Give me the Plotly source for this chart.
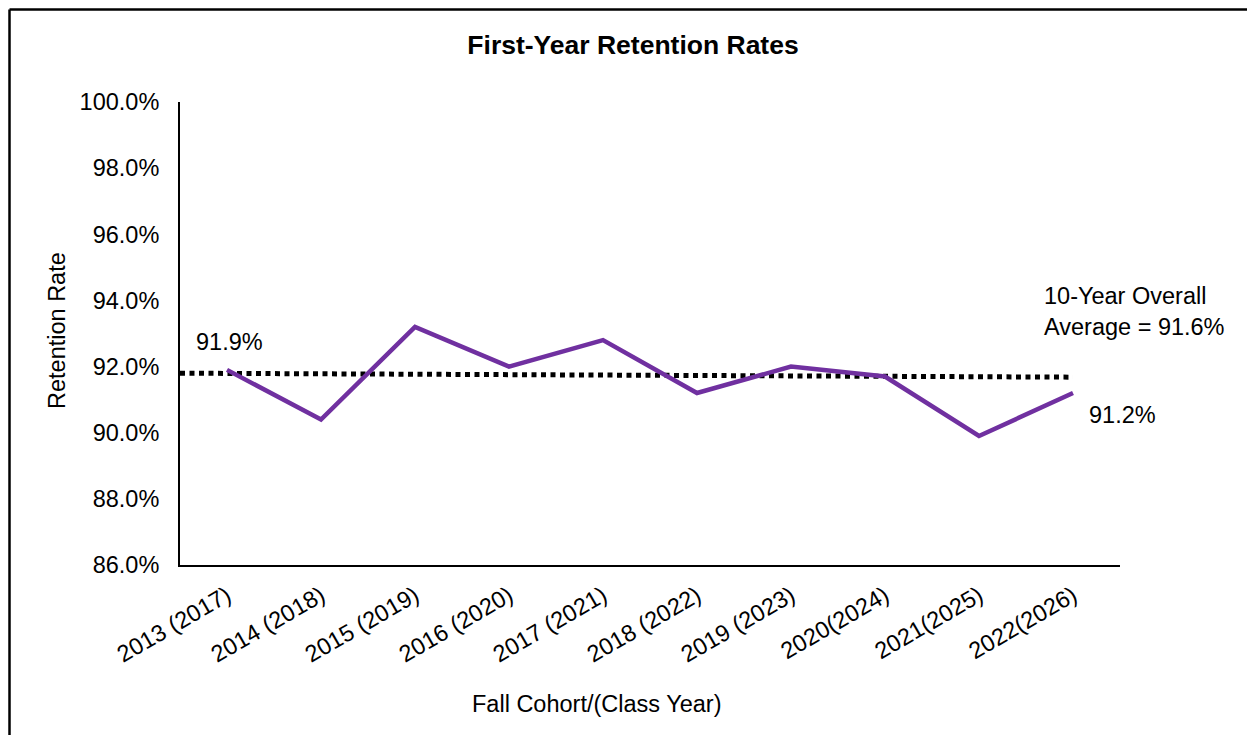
import plotly.graph_objects as go

categories = ["2013 (2017)", "2014 (2018)", "2015 (2019)", "2016 (2020)", "2017 (2021)",
              "2018 (2022)", "2019 (2023)", "2020(2024)", "2021(2025)", "2022(2026)"]
retention = [91.9, 90.4, 93.2, 92.0, 92.8, 91.2, 92.0, 91.7, 89.9, 91.2]
avg_line_values = [91.8, 91.68]
y_ticks = [86, 88, 90, 92, 94, 96, 98, 100]

FONT = "Liberation Sans, Arial, sans-serif"
FS = 23.5
xs = list(range(len(categories)))

fig = go.Figure()
fig.add_trace(go.Scatter(
    x=[-0.5, xs[-1]], y=avg_line_values, mode="lines",
    line=dict(color="black", width=5, dash="5px,4.5px"),
    hoverinfo="skip", showlegend=False))
fig.add_trace(go.Scatter(
    x=xs, y=retention, mode="lines",
    line=dict(color="#7030A0", width=4.5),
    showlegend=False))

# page has an 8px body margin; pixel targets below are in page coordinates
OFF = 8
W, H = 1255 - 2 * OFF, 743 - 2 * OFF
L, T = 180 - OFF, 102 - OFF
PR, PB = 1120 - OFF, 565 - OFF
R, B = W - PR, H - PB
pw, ph = PR - L, PB - T

def px_to_paper(x, y):
    x -= OFF
    y -= OFF
    return (x - L) / pw, (PB - y) / ph

annotations = [
    dict(x=xs[0], y=retention[0], xref="x", yref="y", text=f"{retention[0]:.1f}%",
         showarrow=False, yshift=28, xshift=2, font=dict(size=FS, color="black", family=FONT)),
    dict(x=xs[-1], y=retention[-1], xref="x", yref="y", text=f"{retention[-1]:.1f}%",
         showarrow=False, yshift=-22, xshift=49, font=dict(size=FS, color="black", family=FONT)),
]
ax, ay = px_to_paper(1042, 311.5)
annotations.append(dict(x=ax, y=ay, xref="paper", yref="paper", xanchor="left", yanchor="middle",
                        align="left", showarrow=False,
                        text="10-Year Overall<br>Average = 91.6%",
                        font=dict(size=FS, color="black", family=FONT)))
tx, ty = px_to_paper(596, 704)
annotations.append(dict(x=tx, y=ty, xref="paper", yref="paper", xanchor="center", yanchor="middle",
                        showarrow=False, text="Fall Cohort/(Class Year)",
                        font=dict(size=FS, color="black", family=FONT)))
yx, yy = px_to_paper(57, 331)
annotations.append(dict(x=yx, y=yy, xref="paper", yref="paper", xanchor="center", yanchor="middle",
                        showarrow=False, text="Retention Rate", textangle=-90,
                        font=dict(size=FS, color="black", family=FONT)))

# outer chart border: top and left edges (right/bottom lie outside the picture)
bx0, by0 = px_to_paper(9.5, 9.5)
bx1, by1 = px_to_paper(1300, 800)
shapes = [
    dict(type="line", xref="paper", yref="paper", x0=bx0, y0=by0, x1=bx1, y1=by0,
         line=dict(color="black", width=2.5)),
    dict(type="line", xref="paper", yref="paper", x0=bx0, y0=by0, x1=bx0, y1=by1,
         line=dict(color="black", width=2.5)),
]

fig.update_layout(
    width=W, height=H,
    margin=dict(l=L, r=R, t=T, b=B, autoexpand=False),
    paper_bgcolor="white", plot_bgcolor="white",
    font=dict(family=FONT, size=FS, color="black"),
    title=dict(text="<b>First-Year Retention Rates</b>", x=(633 - OFF) / W, y=1 - (45 - OFF) / H,
               xanchor="center", yanchor="middle", xref="container", yref="container",
               font=dict(size=26.5, color="black", family=FONT)),
    xaxis=dict(range=[-0.5, len(categories) - 0.5], tickmode="array", tickvals=xs,
               ticktext=categories, tickangle=-30, showgrid=False, zeroline=False,
               showline=True, linecolor="black", linewidth=2, ticks="",
               ticklabelstandoff=6, tickfont=dict(size=FS, family=FONT)),
    yaxis=dict(range=[86, 100], tickmode="array", tickvals=y_ticks,
               ticktext=[f"{v:.1f}%" for v in y_ticks], showgrid=False, zeroline=False,
               showline=True, linecolor="black", linewidth=2, ticks="",
               ticklabelstandoff=14, tickfont=dict(size=FS, family=FONT)),
    annotations=annotations, shapes=shapes,
)

fig.write_html("out.html")
